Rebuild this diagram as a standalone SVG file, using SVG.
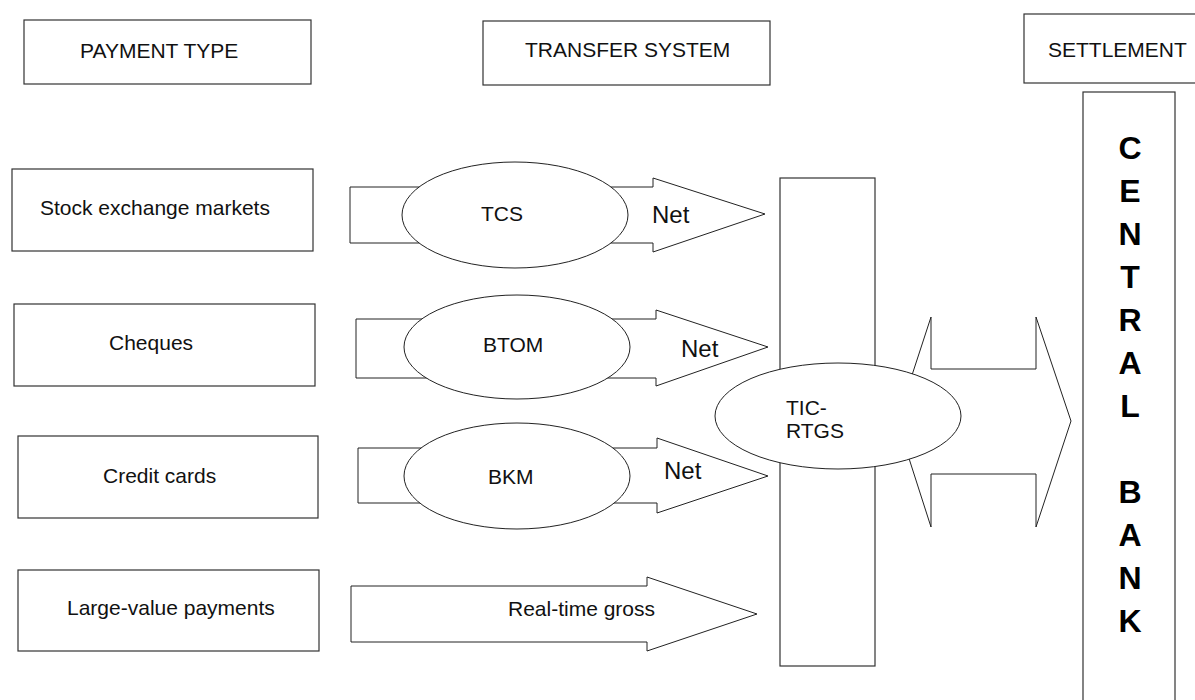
<svg xmlns="http://www.w3.org/2000/svg" width="1195" height="700" viewBox="0 0 1195 700">
<style>
.box{fill:#fff;stroke:#333;stroke-width:1.2}
.arr{fill:#fff;stroke:#222;stroke-width:1}
.ell{fill:#fff;stroke:#222;stroke-width:1}
.t{font-family:"Liberation Sans",Arial,sans-serif;font-size:21px;fill:#111}
.net{font-family:"Liberation Sans",Arial,sans-serif;font-size:24px;fill:#111}
.cb{font-family:"Liberation Sans",Arial,sans-serif;font-size:32px;font-weight:bold;fill:#000;text-anchor:middle}
</style>
<rect width="1195" height="700" fill="#fff"/>
<g id="hdr-payment"><rect class="box" x="24" y="20" width="287" height="64"/><text class="t" x="80" y="58">PAYMENT TYPE</text></g>
<g id="hdr-transfer"><rect class="box" x="483" y="21" width="287" height="64"/><text class="t" x="525" y="57">TRANSFER SYSTEM</text></g>
<g id="hdr-settlement"><rect class="box" x="1024" y="14" width="180" height="69"/><text class="t" x="1048" y="57">SETTLEMENT</text></g>
<g id="stock"><rect class="box" x="12" y="169" width="301" height="82"/><text class="t" x="40" y="215">Stock exchange markets</text></g>
<g id="cheques"><rect class="box" x="14" y="304" width="301" height="82"/><text class="t" x="109" y="350">Cheques</text></g>
<g id="credit"><rect class="box" x="18" y="436" width="300" height="82"/><text class="t" x="103" y="483">Credit cards</text></g>
<g id="large"><rect class="box" x="18" y="570" width="301" height="81"/><text class="t" x="67" y="615">Large-value payments</text></g>
<g id="connectors">
<polygon class="arr" points="350,187 653,187 653,178 765,214 653,252 653,243 350,243"/>
<polygon class="arr" points="356,319 656,319 656,310 768,347 656,386 656,378 356,378"/>
<polygon class="arr" points="358,448 657,448 657,438 768,476 657,513 657,503 358,503"/>
<polygon class="arr" points="351,586 647,586 647,577 757,614 647,651 647,642 351,642"/>
<polygon class="arr" points="897,421 931,317 931,369 1036,369 1036,317 1071,421 1036,527 1036,474 931,474 931,527"/>
<text class="net" x="652" y="223">Net</text>
<text class="net" x="681" y="357">Net</text>
<text class="net" x="664" y="479">Net</text>
<text class="t" x="508" y="616">Real-time gross</text>
</g>
<g id="tcs"><ellipse class="ell" cx="515" cy="215" rx="113" ry="53"/><text class="t" x="481" y="221">TCS</text></g>
<g id="btom"><ellipse class="ell" cx="517" cy="347" rx="113" ry="52"/><text class="t" x="483" y="352">BTOM</text></g>
<g id="bkm"><ellipse class="ell" cx="517" cy="476" rx="113" ry="53"/><text class="t" x="488" y="484">BKM</text></g>
<g id="tic-rtgs"><rect class="box" x="780" y="178" width="95" height="488"/><ellipse class="ell" cx="838" cy="416" rx="123" ry="53"/><text class="t" x="786" y="415">TIC-</text><text class="t" x="786" y="438">RTGS</text></g>
<g id="central-bank"><rect class="box" x="1083" y="92" width="92" height="620"/>
<text class="cb" x="1130" y="159">C</text><text class="cb" x="1130" y="202">E</text><text class="cb" x="1130" y="245">N</text><text class="cb" x="1130" y="288">T</text><text class="cb" x="1130" y="331">R</text><text class="cb" x="1130" y="374">A</text><text class="cb" x="1130" y="417">L</text><text class="cb" x="1130" y="503">B</text><text class="cb" x="1130" y="546">A</text><text class="cb" x="1130" y="589">N</text><text class="cb" x="1130" y="632">K</text>
</g>
</svg>
